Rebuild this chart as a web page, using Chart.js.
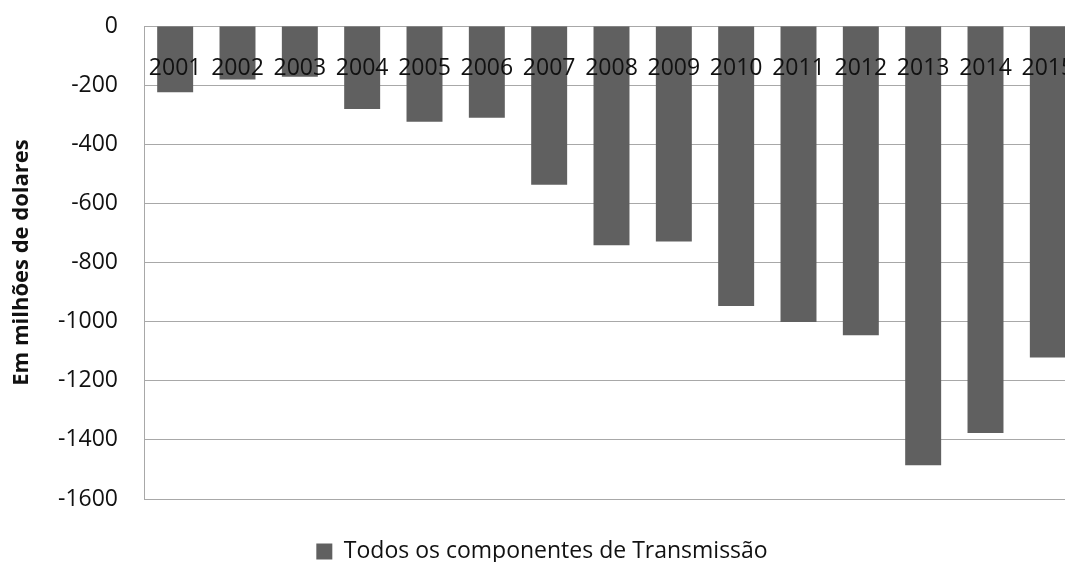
<!DOCTYPE html>
<html lang="pt">
<head>
<meta charset="utf-8">
<title>Todos os componentes de Transmissão</title>
<script src="https://cdn.jsdelivr.net/npm/chart.js@4.4.1/dist/chart.umd.min.js"></script>
<style>
  html, body { margin: 0; padding: 0; background: #ffffff; overflow: hidden; }
  #wrap { width: 1092px; height: 562px; }
  canvas { display: block; }
</style>
</head>
<body>
<div id="wrap"><canvas id="chart" width="1092" height="562"></canvas></div>
<script>
// Anos (categorias)
const years = ['2001', '2002', '2003', '2004', '2005', '2006', '2007', '2008',
               '2009', '2010', '2011', '2012', '2013', '2014', '2015'];
// Saldo, em milhões de dólares
const transmissao = [-224, -181, -172, -281, -324, -310, -537, -742,
                     -729, -947, -1001, -1046, -1486, -1377, -1121];
// Escala vertical
const yTicks = [0, -200, -400, -600, -800, -1000, -1200, -1400, -1600];

const seriesName = 'Todos os componentes de Transmissão';
const axisTitle = 'Em milhões de dolares';

const FONT = "'Open Sans', 'Noto Sans', sans-serif";
const BAR = '#606060';
const GRID = '#a8a8a8';
const TEXT = '#111111';
const CLEAR = 'rgba(0,0,0,0)';

new Chart(document.getElementById('chart'), {
  type: 'bar',
  data: {
    labels: years,
    datasets: [{
      label: seriesName,
      data: transmissao,
      backgroundColor: BAR,
      borderWidth: 0,
      categoryPercentage: 1,
      barPercentage: 0.577
    }]
  },
  options: {
    responsive: false,
    animation: false,
    devicePixelRatio: 1,
    layout: { padding: { top: 26, left: 5, right: 13, bottom: -11 } },
    plugins: {
      tooltip: { enabled: false },
      legend: {
        position: 'bottom',
        labels: {
          font: { family: FONT, size: 23 },
          color: TEXT,
          boxWidth: 16,
          boxHeight: 16,
          padding: 2
        }
      }
    },
    scales: {
      x: {
        // category labels sit just under the zero line, over the bars
        position: { y: 0 },
        grid: { display: false, drawTicks: true, tickLength: 29, tickColor: CLEAR },
        border: { display: true, color: GRID, width: 1 },
        ticks: {
          z: 1,
          padding: 0,
          maxRotation: 0,
          autoSkip: false,
          color: TEXT,
          font: { family: FONT, size: 23 }
        }
      },
      gap: {
        // empty band between the plot and the legend
        type: 'category',
        position: 'bottom',
        grid: { display: false, drawTicks: false },
        border: { display: false },
        ticks: { display: false },
        afterFit(scale) { scale.height = 39; }
      },
      y: {
        min: yTicks[yTicks.length - 1],
        max: yTicks[0],
        afterBuildTicks(scale) { scale.ticks = yTicks.map(v => ({ value: v })); },
        afterFit(scale) { scale.width = 139; },
        grid: { color: GRID, lineWidth: 1, drawTicks: true, tickLength: 26, tickColor: CLEAR },
        border: { display: true, color: GRID, width: 1 },
        ticks: {
          padding: 0,
          color: TEXT,
          font: { family: FONT, size: 23 },
          callback: v => String(v)
        },
        title: {
          display: true,
          text: axisTitle,
          color: TEXT,
          font: { family: FONT, size: 22, weight: 'bold' }
        }
      }
    }
  }
});
</script>
</body>
</html>
